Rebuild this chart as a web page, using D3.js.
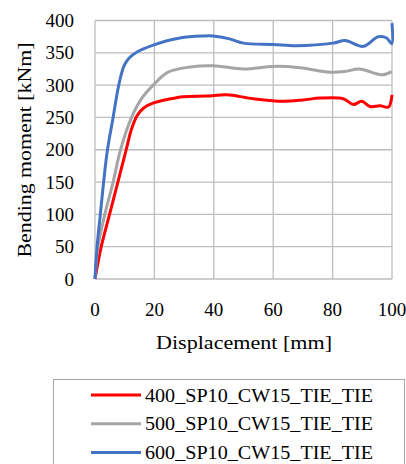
<!DOCTYPE html>
<html>
<head>
<meta charset="utf-8">
<script src="https://cdn.jsdelivr.net/npm/d3@7"></script>
<style>
  body { margin: 0; background: #fff; }
</style>
</head>
<body>
<div id="chart"></div>
<script>
// series names
var names = ["400_SP10_CW15_TIE_TIE", "500_SP10_CW15_TIE_TIE", "600_SP10_CW15_TIE_TIE"];
var colors = ["#ff0000", "#a5a5a5", "#4472c4"];

// displacement [mm] and bending moment [kNm]
var disp400 = [0, 2.1, 4.9, 7.7, 10.5, 12.3, 14.2, 16.5, 19.5, 24.6, 29.7, 37.6, 44.3, 53.3, 63.4, 70, 75.8, 83.6, 87, 89.8, 92.6, 96, 98.8, 100];
var mom400  = [0, 50, 100, 150, 200, 232, 253, 265, 272, 278, 282, 283, 285, 279, 275, 277, 280, 279, 270, 275, 267, 268, 266, 285];

var disp500 = [0, 1, 3.3, 6.1, 8.6, 12.3, 15.5, 19.6, 24.6, 32, 39.8, 50, 60, 69, 79, 84, 89, 96.5, 99.9];
var mom500  = [0, 50, 100, 150, 200, 250, 278, 300, 320, 328, 330, 325, 329, 327, 320, 321, 325, 316, 321];

var disp600 = [0, 0.7, 1.8, 2.9, 4.2, 6.1, 8, 9.8, 11.5, 14, 19.6, 28.6, 36.5, 39.8, 45, 50, 60, 67.9, 80.2, 84.2, 90.3, 95.4, 98.2, 99.9, 100];
var mom600  = [0, 50, 100, 150, 200, 250, 300, 330, 342, 351, 362, 373, 376, 376, 372, 365, 363, 361, 365, 369, 360, 375, 373, 364, 396];

var xTicks = [0, 20, 40, 60, 80, 100];
var yTicks = [0, 50, 100, 150, 200, 250, 300, 350, 400];

var series = [
  { name: names[0], color: colors[0], x: disp400, y: mom400 },
  { name: names[1], color: colors[1], x: disp500, y: mom500 },
  { name: names[2], color: colors[2], x: disp600, y: mom600 }
];

var width = 406, height = 464;
var margin = { left: 95, top: 20.5, right: 14, bottom: 185 };

var svg = d3.select("#chart").append("svg")
    .attr("width", width)
    .attr("height", height)
    .attr("font-family", "'Liberation Serif', 'Times New Roman', 'DejaVu Serif', serif");

var x = d3.scaleLinear().domain([0, 100]).range([margin.left, 392]);
var y = d3.scaleLinear().domain([0, 400]).range([279, margin.top]);

// gridlines
svg.append("g").selectAll("line.v")
    .data(xTicks).enter().append("line")
    .attr("x1", function(d) { return x(d); })
    .attr("x2", function(d) { return x(d); })
    .attr("y1", y(0)).attr("y2", y(400))
    .attr("stroke", "#bdbdbd").attr("stroke-width", 1.3);

svg.append("g").selectAll("line.h")
    .data(yTicks).enter().append("line")
    .attr("x1", x(0)).attr("x2", x(100))
    .attr("y1", function(d) { return y(d); })
    .attr("y2", function(d) { return y(d); })
    .attr("stroke", "#bdbdbd").attr("stroke-width", 1.3);

// tick labels
svg.append("g").selectAll("text")
    .data(yTicks).enter().append("text")
    .attr("x", x(0) - 21)
    .attr("y", function(d) { return y(d) + 6.5; })
    .attr("text-anchor", "end")
    .attr("font-size", "19px")
    .text(function(d) { return d; });

svg.append("g").selectAll("text")
    .data(xTicks).enter().append("text")
    .attr("x", function(d) { return x(d); })
    .attr("y", 316)
    .attr("text-anchor", "middle")
    .attr("font-size", "19px")
    .text(function(d) { return d; });

// axis titles
svg.append("text")
    .attr("x", 244).attr("y", 349)
    .attr("text-anchor", "middle")
    .attr("font-size", "19px")
    .attr("textLength", 176).attr("lengthAdjust", "spacingAndGlyphs")
    .text("Displacement [mm]");

svg.append("text")
    .attr("transform", "translate(31,150) rotate(-90)")
    .attr("text-anchor", "middle")
    .attr("font-size", "19px")
    .attr("textLength", 215).attr("lengthAdjust", "spacingAndGlyphs")
    .text("Bending moment [kNm]");

// lines
var line = d3.line()
    .x(function(d) { return x(d[0]); })
    .y(function(d) { return y(d[1]); })
    .curve(d3.curveCatmullRom.alpha(0.5));

series.forEach(function(s) {
  var pts = s.x.map(function(v, i) { return [v, s.y[i]]; });
  svg.append("path")
      .datum(pts)
      .attr("fill", "none")
      .attr("stroke", s.color)
      .attr("stroke-width", 3)
      .attr("stroke-linejoin", "round")
      .attr("d", line);
});

// legend
svg.append("rect")
    .attr("x", 53.5).attr("y", 379.5)
    .attr("width", 351).attr("height", 100)
    .attr("fill", "none").attr("stroke", "#a6a6a6").attr("stroke-width", 1);

var leg = svg.append("g").selectAll("g")
    .data(series).enter().append("g")
    .attr("transform", function(d, i) { return "translate(0," + (395 + i * 28.8) + ")"; });

leg.append("line")
    .attr("x1", 91).attr("x2", 141)
    .attr("stroke", function(d) { return d.color; })
    .attr("stroke-width", 3);

leg.append("text")
    .attr("x", 145).attr("y", 6.5)
    .attr("font-size", "19px")
    .attr("textLength", 228).attr("lengthAdjust", "spacingAndGlyphs")
    .text(function(d) { return d.name; });
</script>
</body>
</html>
